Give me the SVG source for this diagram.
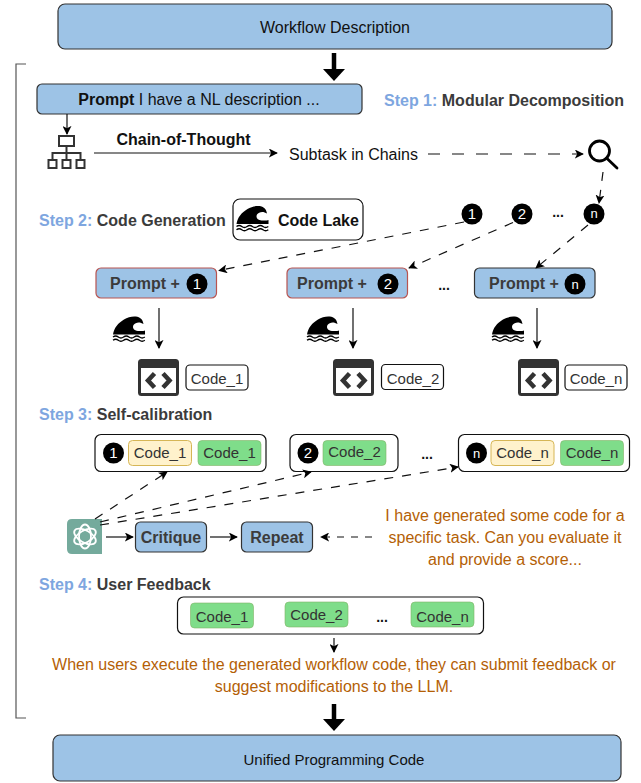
<svg xmlns="http://www.w3.org/2000/svg" width="641" height="783" viewBox="0 0 641 783">
<style>
text{font-family:"Liberation Sans",Arial,sans-serif;fill:#111}
.c{text-anchor:middle}
.b{font-weight:bold}
.blue{fill:#9dc3e6;stroke:#333;stroke-width:1.2}
.red{fill:#9dc3e6;stroke:#b85450;stroke-width:1.2}
.white{fill:#fff;stroke:#111;stroke-width:1.2}
.yel{fill:#fff2cc;stroke:#d6b656;stroke-width:1}
.grn{fill:#7fdd8a;stroke:#82b366;stroke-width:.6}
.step{font-size:16px;font-weight:bold;fill:#3b3b3b}
.sb{fill:#7ea6e0}
.code{font-size:15px;fill:#333;text-anchor:middle}
.org{font-size:16px;fill:#b45f06;text-anchor:middle}
.l{fill:none;stroke:#111;stroke-width:1.2}
.d{stroke-dasharray:9 9}
.n{fill:#000}
.nt{fill:#fff;font-size:15px;text-anchor:middle}
.dots{font-size:14px;font-weight:bold;text-anchor:middle}
</style>
<defs>
<marker id="a" viewBox="0 0 10 10" refX="9" refY="5" markerWidth="9" markerHeight="9" markerUnits="userSpaceOnUse" orient="auto"><path d="M0 0L10 5L0 10L2.5 5Z" fill="#000"/></marker>
<g id="wave"><path d="M0 18.500C1 12 5 7 11 3.500C16 .5 23 -.5 27 2C29.500 3.500 30 6 30.500 8C27 5.500 22.500 6 20.500 9C19 12 21 14.500 25 15C28 15.300 31 15 32 14.500V18.500Z" fill="#000"/><path d="M0 21q2.700 -2 5.300 0t5.300 0t5.300 0t5.300 0t5.300 0t5.300 0M0 24.200q2.700 -2 5.300 0t5.300 0t5.300 0t5.300 0t5.300 0t5.300 0" fill="none" stroke="#000" stroke-width="1.400"/></g>
<g id="codeicon"><rect x="1.500" y="1.500" width="38" height="34" rx="2" fill="#fff" stroke="#333" stroke-width="3"/><rect x="1" y="1" width="39" height="8" fill="#333"/><path d="M16.500 14.500L10 21.500L16.500 28.500M25 14.500L31.500 21.500L25 28.500" fill="none" stroke="#333" stroke-width="4.500"/></g>
</defs>

<g id="bracket"><path d="M26 64H16V718H26" fill="none" stroke="#555" stroke-width="1.200"/></g>

<g id="workflow"><rect class="blue" x="58" y="4" width="554" height="45" rx="7"/><text class="c" x="335" y="33" font-size="16">Workflow Description</text></g>
<g id="prompt-main"><rect class="blue" x="37" y="84" width="325" height="30" rx="5"/><text class="c" x="199" y="105" font-size="16"><tspan class="b">Prompt</tspan> I have a NL description ...</text></g>
<g id="step1"><text class="step" x="384" y="106"><tspan class="sb">Step 1:</tspan> Modular Decomposition</text></g>

<g id="hierarchy" fill="none" stroke="#333" stroke-width="2"><rect x="59" y="136" width="15" height="10"/><rect x="48.500" y="160" width="8" height="8"/><rect x="62.500" y="160" width="8" height="8"/><rect x="76.500" y="160" width="8" height="8"/><path d="M66.500 146V160M52.500 160V153H80.500V160"/></g>
<g id="cot"><text class="b c" x="183.500" y="145" font-size="16">Chain-of-Thought</text></g>
<g id="subtask"><text x="289" y="160" font-size="16">Subtask in Chains</text></g>
<g id="search" fill="none" stroke="#000" stroke-width="2.800"><circle cx="599.500" cy="151" r="10"/><path d="M606.500 158L617 168" stroke-linecap="round"/></g>

<g id="step2"><text class="step" x="39" y="226"><tspan class="sb">Step 2:</tspan> Code Generation</text></g>
<g id="codelake"><rect class="white" x="233" y="199" width="130" height="41" rx="7"/><use href="#wave" transform="translate(236.500 205.500)"/><text class="b" x="278" y="226" font-size="16">Code Lake</text></g>

<g id="num1"><circle class="n" cx="472" cy="214" r="10.500"/><text class="nt" x="472" y="219">1</text></g>
<g id="num2"><circle class="n" cx="522" cy="214" r="10.500"/><text class="nt" x="522" y="219">2</text></g>
<g id="numd"><text class="dots" x="558" y="217">...</text></g>
<g id="numn"><circle class="n" cx="594" cy="214" r="10.500"/><text class="nt" x="594" y="218" style="font-size:13px">n</text></g>

<g id="prompt1"><rect class="red" x="96" y="268" width="120.500" height="30" rx="5"/><text class="step" x="110" y="289">Prompt +</text><circle class="n" cx="197" cy="284" r="10.500"/><text class="nt" x="197" y="289">1</text></g>
<g id="prompt2"><rect class="red" x="287" y="268" width="120.500" height="30" rx="5"/><text class="step" x="297" y="289">Prompt +</text><circle class="n" cx="388" cy="284" r="10.500"/><text class="nt" x="388" y="289">2</text></g>
<g id="promptd"><text class="dots" x="444" y="290">...</text></g>
<g id="promptn"><rect class="blue" x="474.500" y="268" width="120.500" height="30" rx="5"/><text class="step" x="489" y="289">Prompt +</text><circle class="n" cx="575" cy="284" r="10.500"/><text class="nt" x="575" y="288.500" style="font-size:13px">n</text></g>

<g id="wave1"><use href="#wave" transform="translate(113 316)"/></g>
<g id="wave2"><use href="#wave" transform="translate(307 316)"/></g>
<g id="wave3"><use href="#wave" transform="translate(492 316)"/></g>

<g id="icon1"><use href="#codeicon" transform="translate(138 359)"/></g>
<g id="icon2"><use href="#codeicon" transform="translate(333 359)"/></g>
<g id="icon3"><use href="#codeicon" transform="translate(518 359)"/></g>
<g id="label1"><rect class="white" x="186" y="365" width="62" height="25" rx="4"/><text class="code" x="217" y="384">Code_1</text></g>
<g id="label2"><rect class="white" x="381.500" y="364.500" width="62" height="25" rx="4"/><text class="code" x="413" y="384">Code_2</text></g>
<g id="label3"><rect class="white" x="565" y="365" width="62" height="25" rx="4"/><text class="code" x="596" y="384">Code_n</text></g>

<g id="step3"><text class="step" x="39" y="420"><tspan class="sb">Step 3:</tspan> Self-calibration</text></g>
<g id="cal1"><rect class="white" x="95" y="434.500" width="171" height="37" rx="6"/><circle class="n" cx="113.500" cy="453" r="10.500"/><text class="nt" x="113.500" y="458">1</text><rect class="yel" x="128.500" y="440.500" width="63" height="25" rx="4"/><text class="code" x="160" y="458">Code_1</text><rect class="grn" x="198" y="440.500" width="63" height="25" rx="4"/><text class="code" x="229.500" y="458">Code_1</text></g>
<g id="cal2"><rect class="white" x="290" y="434.500" width="108" height="37" rx="6"/><circle class="n" cx="308" cy="453" r="10.500"/><text class="nt" x="308" y="458">2</text><rect class="grn" x="323" y="440.500" width="63" height="25" rx="4"/><text class="code" x="354.500" y="457">Code_2</text></g>
<g id="cald"><text class="dots" x="427" y="459">...</text></g>
<g id="caln"><rect class="white" x="458.500" y="434.500" width="171" height="37" rx="6"/><circle class="n" cx="476.500" cy="453" r="10.500"/><text class="nt" x="476.500" y="457.500" style="font-size:13px">n</text><rect class="yel" x="491" y="440.500" width="63" height="25" rx="4"/><text class="code" x="522.500" y="458">Code_n</text><rect class="grn" x="560.500" y="440.500" width="63" height="25" rx="4"/><text class="code" x="592" y="458">Code_n</text></g>

<g id="gpt"><path d="M72 519H102V554H72Q67 554 67 549V524Q67 519 72 519Z" fill="#74aa9c"/><g fill="none" stroke="#fff" stroke-width="1.800"><ellipse cx="85" cy="536.500" rx="12" ry="6" transform="rotate(30 85 536.500)"/><ellipse cx="85" cy="536.500" rx="12" ry="6" transform="rotate(90 85 536.500)"/><ellipse cx="85" cy="536.500" rx="12" ry="6" transform="rotate(150 85 536.500)"/></g></g>
<g id="critique"><rect class="blue" x="135.500" y="522" width="71" height="30" rx="5"/><text class="step c" x="171" y="543">Critique</text></g>
<g id="repeat"><rect class="blue" x="241.500" y="522" width="71" height="30" rx="5"/><text class="step c" x="277" y="543">Repeat</text></g>
<g id="note1"><text class="org" x="505" y="521">I have generated some code for a</text><text class="org" x="505" y="543">specific task. Can you evaluate it</text><text class="org" x="505" y="565">and provide a score...</text></g>

<g id="step4"><text class="step" x="39" y="590"><tspan class="sb">Step 4:</tspan> User Feedback</text></g>
<g id="feedback"><rect class="white" x="177.500" y="597" width="306" height="37" rx="6"/><rect class="grn" x="190.500" y="603" width="63" height="25" rx="4"/><text class="code" x="222" y="622">Code_1</text><rect class="grn" x="285" y="602" width="63" height="25" rx="4"/><text class="code" x="316.500" y="620">Code_2</text><text class="dots" x="382" y="622">...</text><rect class="grn" x="411" y="602" width="63" height="25" rx="4"/><text class="code" x="442.500" y="622">Code_n</text></g>
<g id="note2"><text class="org" x="334" y="670">When users execute the generated workflow code, they can submit feedback or</text><text class="org" x="334" y="692">suggest modifications to the LLM.</text></g>
<g id="unified"><rect class="blue" x="53" y="735" width="568" height="46" rx="7"/><text class="c" x="334" y="765" font-size="15">Unified Programming Code</text></g>

<g id="connectors">
<path d="M334 53V70" stroke="#000" stroke-width="4.500" fill="none"/><path d="M323 69H345L334 81Z" fill="#000"/>
<path d="M334 704V721" stroke="#000" stroke-width="4.500" fill="none"/><path d="M323 719H345L334 731Z" fill="#000"/>
<path class="l" d="M67 114V134" marker-end="url(#a)"/>
<path class="l" d="M94 153H277" marker-end="url(#a)"/>
<path class="l" d="M428 154H583" stroke-dasharray="12 12" marker-end="url(#a)"/>
<path class="l d" d="M603 172L599 203" marker-end="url(#a)"/>
<path class="l d" d="M464 222L219 270.500" marker-end="url(#a)"/>
<path class="l d" d="M513 222.500L409 268" marker-end="url(#a)"/>
<path class="l d" d="M588 225L536 268" marker-end="url(#a)"/>
<path class="l" d="M159 308V348" marker-end="url(#a)"/>
<path class="l" d="M353 308V348" marker-end="url(#a)"/>
<path class="l" d="M537 308V348" marker-end="url(#a)"/>
<path class="l d" d="M95 519L167 472" marker-end="url(#a)"/>
<path class="l d" d="M100 522L311 472" marker-end="url(#a)"/>
<path class="l d" d="M100 525L458 467" marker-end="url(#a)"/>
<path class="l" d="M106 537H133" marker-end="url(#a)"/>
<path class="l" d="M210 537H237" marker-end="url(#a)"/>
<path class="l" d="M372 537H321" stroke-dasharray="7 7" marker-end="url(#a)"/>
<path class="l" d="M334 638V652" marker-end="url(#a)"/>
</g>
</svg>
